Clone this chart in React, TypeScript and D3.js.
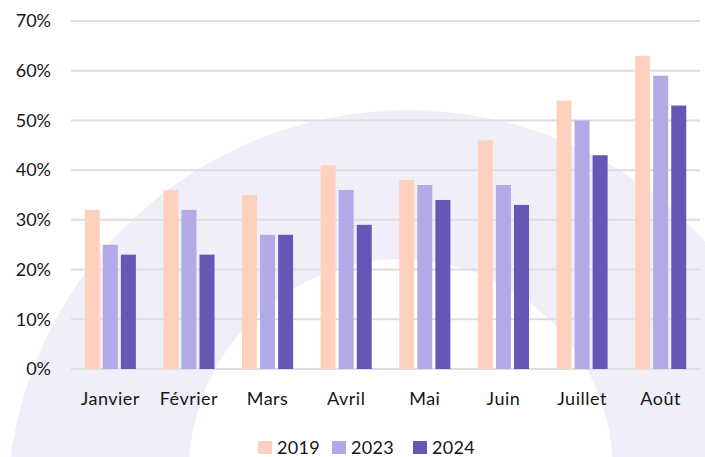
import { useEffect, useRef } from "react";
import * as d3 from "d3";

const months = ["Janvier", "Février", "Mars", "Avril", "Mai", "Juin", "Juillet", "Août"];
const years = ["2019", "2023", "2024"];
const values2019 = [32, 36, 35, 41, 38, 46, 54, 63];
const values2023 = [25, 32, 27, 36, 37, 37, 50, 59];
const values2024 = [23, 23, 27, 29, 34, 33, 43, 53];
const yTicks = [0, 10, 20, 30, 40, 50, 60, 70];
const colors = ["#ffd0bd", "#b1aae6", "#6557b5"];

const FONT = "Lato, 'Open Sans', sans-serif";

export default function App() {
  const svgRef = useRef<SVGSVGElement>(null);

  useEffect(() => {
    if (!svgRef.current) return;
    const svg = d3.select(svgRef.current);
    svg.selectAll("*").remove();

    const width = 705;
    const height = 457;
    const margin = { top: 21, right: 5, bottom: 88, left: 71 };

    // decorative ring behind the chart
    const outer = { cx: 408, cy: 511, r: 401 };
    const inner = { cx: 401, cy: 471, r: 212 };
    const ring = d3.path();
    ring.moveTo(outer.cx + outer.r, outer.cy);
    ring.arc(outer.cx, outer.cy, outer.r, 0, Math.PI * 2);
    ring.moveTo(inner.cx + inner.r, inner.cy);
    ring.arc(inner.cx, inner.cy, inner.r, 0, Math.PI * 2);
    svg
      .append("path")
      .attr("d", ring.toString())
      .attr("fill", "#f0eef9")
      .attr("fill-rule", "evenodd");

    const x0 = d3
      .scaleBand<string>()
      .domain(months)
      .range([margin.left, width - margin.right])
      .paddingInner(0.35)
      .paddingOuter(0.175);

    const x1 = d3
      .scaleBand<string>()
      .domain(years)
      .range([0, x0.bandwidth()])
      .paddingInner(0.17)
      .paddingOuter(0);

    const y = d3
      .scaleLinear()
      .domain([0, 70])
      .range([height - margin.bottom, margin.top]);

    // grid
    svg
      .append("g")
      .selectAll("line")
      .data(yTicks)
      .enter()
      .append("line")
      .attr("x1", margin.left)
      .attr("x2", width - margin.right)
      .attr("y1", (d) => y(d))
      .attr("y2", (d) => y(d))
      .attr("stroke", "#dedede")
      .attr("stroke-width", 2);

    // y labels
    svg
      .append("g")
      .selectAll("text")
      .data(yTicks)
      .enter()
      .append("text")
      .attr("x", 51)
      .attr("y", (d) => y(d))
      .attr("dy", "0.35em")
      .attr("text-anchor", "end")
      .attr("fill", "#161616")
      .style("font-family", FONT)
      .style("font-size", "18px")
      .text((d) => `${d}%`);

    const series = [values2019, values2023, values2024];

    series.forEach((vals, si) => {
      svg
        .append("g")
        .selectAll("rect")
        .data(vals)
        .enter()
        .append("rect")
        .attr("x", (_, i) => (x0(months[i]) || 0) + (x1(years[si]) || 0))
        .attr("y", (d) => y(d))
        .attr("width", x1.bandwidth())
        .attr("height", (d) => y(0) - y(d))
        .attr("fill", colors[si]);
    });

    // x labels
    svg
      .append("g")
      .selectAll("text")
      .data(months)
      .enter()
      .append("text")
      .attr("x", (d) => (x0(d) || 0) + x0.bandwidth() / 2)
      .attr("y", 405)
      .attr("text-anchor", "middle")
      .attr("fill", "#161616")
      .style("font-family", FONT)
      .style("font-size", "18px")
      .style("letter-spacing", "0.5px")
      .text((d) => d);

    // legend
    const legendX = [258, 332, 413];
    years.forEach((yr, i) => {
      const g = svg.append("g").attr("transform", `translate(${legendX[i]}, 441)`);
      g.append("rect").attr("width", 14).attr("height", 13).attr("fill", colors[i]);
      g.append("text")
        .attr("x", 19)
        .attr("y", 13)
        .attr("fill", "#161616")
        .style("font-family", FONT)
        .style("font-size", "18px")
        .style("letter-spacing", "0.3px")
        .text(yr);
    });
  }, []);

  return (
    <svg
      ref={svgRef}
      width={705}
      height={457}
      style={{ position: "absolute", left: 0, top: 0, background: "#fff" }}
    />
  );
}
